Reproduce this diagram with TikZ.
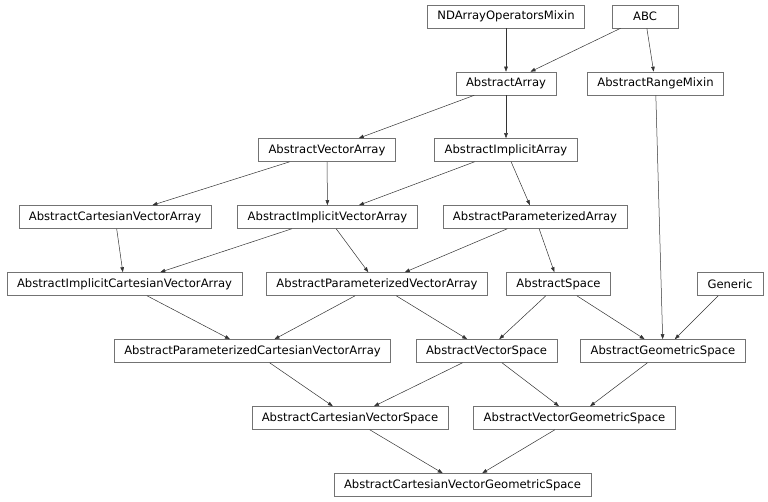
\documentclass[tikz,border=0pt]{standalone}
\usepackage{fontspec}
\setmainfont{DejaVu Sans}
\usetikzlibrary{arrows.meta}
\tikzset{
  >={Triangle[length=5pt, width=3.6pt]},
  cls/.style   = {draw=black!55, line width=0.6pt, rectangle,
                  minimum height=23pt, minimum width=66pt,
                  inner xsep=10pt, inner ysep=1pt,
                  font=\fontsize{11.6}{13}\selectfont},
  inherit/.style = {->, draw=black!80, line width=0.5pt},
}

\begin{document}
\begin{tikzpicture}[x=1pt, y=-1pt]
  \useasboundingbox (0,0) rectangle (768,502);

  % row 1
  \node[cls] (ndmix)    at (506,16.5)   {NDArrayOperatorsMixin};
  \node[cls] (abc)      at (645,16.5)   {ABC};
  % row 2
  \node[cls] (arr)      at (506,83.5)   {AbstractArray};
  \node[cls] (rng)      at (655.5,83.5) {AbstractRangeMixin};
  % row 3
  \node[cls] (vec)      at (327,150)    {AbstractVectorArray};
  \node[cls] (impl)     at (506,150)    {AbstractImplicitArray};
  % row 4
  \node[cls] (cart)     at (115,217)    {AbstractCartesianVectorArray};
  \node[cls] (implvec)  at (327.5,217)  {AbstractImplicitVectorArray};
  \node[cls] (param)    at (535,217)    {AbstractParameterizedArray};
  % row 5
  \node[cls] (implcart) at (124.5,284)  {AbstractImplicitCartesianVectorArray};
  \node[cls] (paramvec) at (377,284)    {AbstractParameterizedVectorArray};
  \node[cls] (space)    at (558.5,284)  {AbstractSpace};
  \node[cls] (generic)  at (730,284)    {Generic};
  % row 6
  \node[cls] (paramcart) at (252.5,351) {AbstractParameterizedCartesianVectorArray};
  \node[cls] (vspace)   at (486.5,351)  {AbstractVectorSpace};
  \node[cls] (geom)     at (663,351)    {AbstractGeometricSpace};
  % row 7
  \node[cls] (cartspace) at (350,418)   {AbstractCartesianVectorSpace};
  \node[cls] (vgeom)    at (574.5,418)  {AbstractVectorGeometricSpace};
  % row 8
  \node[cls] (cartgeom) at (462.5,485)  {AbstractCartesianVectorGeometricSpace};

  \foreach \a/\b in {ndmix/arr, abc/arr, abc/rng,
                     arr/vec, arr/impl, rng/geom,
                     vec/cart, vec/implvec, impl/implvec, impl/param,
                     cart/implcart, implvec/implcart, implvec/paramvec,
                     param/paramvec, param/space,
                     implcart/paramcart, paramvec/paramcart, paramvec/vspace,
                     space/vspace, space/geom, generic/geom,
                     paramcart/cartspace, vspace/cartspace, vspace/vgeom,
                     geom/vgeom, cartspace/cartgeom, vgeom/cartgeom}
    \draw[inherit] (\a) -- (\b);
\end{tikzpicture}
\end{document}
